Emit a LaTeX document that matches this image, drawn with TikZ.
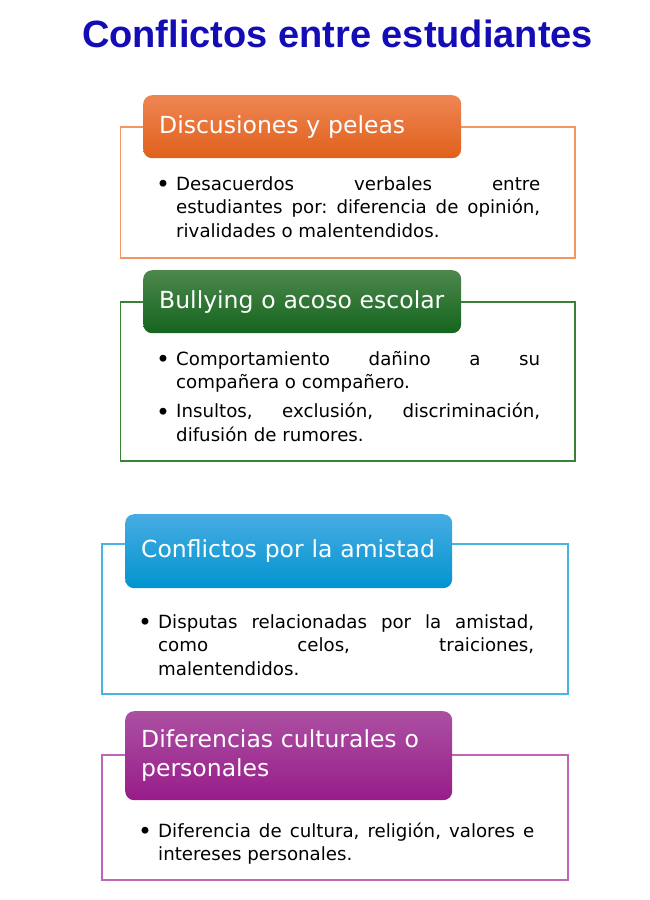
\documentclass[tikz,border=0pt]{standalone}
\usepackage{fontspec}
\setmainfont{DejaVu Sans}
\newfontfamily\titlefont{Liberation Sans}
\frenchspacing
\definecolor{titleblue}{RGB}{20,12,180}
\definecolor{orangetop}{RGB}{238,134,82}
\definecolor{orangebot}{RGB}{224,96,28}
\definecolor{orangeline}{RGB}{244,150,100}
\definecolor{greentop}{RGB}{76,136,76}
\definecolor{greenbot}{RGB}{20,100,30}
\definecolor{greenline}{RGB}{56,130,56}
\definecolor{bluetop}{RGB}{72,172,226}
\definecolor{bluebot}{RGB}{0,148,208}
\definecolor{blueline}{RGB}{72,180,228}
\definecolor{purpletop}{RGB}{172,80,162}
\definecolor{purplebot}{RGB}{152,28,138}
\definecolor{purpleline}{RGB}{192,100,182}
\newcommand\bulitem[1]{\noindent\hangindent=21pt\hangafter=1%
  \makebox[21pt][l]{\hspace{1pt}\raisebox{-2.6pt}{\scalebox{1.3}{\textbullet}}}#1\par}
\newcommand\itemgap{\vspace{5.5pt}}
\begin{document}
\begin{tikzpicture}[x=1pt,y=-1pt,
  hdr/.style={anchor=north west,rounded corners=9pt,top color=#1top,bottom color=#1bot,
    text=white,font=\fontsize{23.5}{29}\selectfont,inner ysep=0pt,align=left},
  bodytxt/.style={anchor=base west,inner sep=0pt,text width=#1,align=justify,
    font=\fontsize{18.2}{23.5}\selectfont},
  boxframe/.style={draw=#1line,line width=1.3pt}]
  \useasboundingbox (0,0) rectangle (650,900);
  \node[font=\titlefont\fontsize{38}{44}\selectfont\bfseries,text=titleblue,anchor=base]
    (title) at (337.5,47) {Conflictos entre estudiantes};

  \draw[boxframe=orange] (120.5,127) rectangle (575,258);
  \node[hdr=orange,inner xsep=16pt,text width=286pt,minimum height=63pt]
    (discusion) at (143,95) {Discusiones y peleas};
  \node[bodytxt=385pt] (discusion-txt) at (155,190)
    {\bulitem{Desacuerdos verbales entre\linebreak estudiantes por: diferencia de opinión,\linebreak rivalidades o malentendidos.}};

  \draw[boxframe=green] (120.5,302) rectangle (575,461);
  \node[hdr=green,inner xsep=16pt,text width=286pt,minimum height=63pt]
    (bullying) at (143,270) {Bullying o acoso escolar};
  \node[bodytxt=385pt] (bullying-txt) at (155,365)
    {\bulitem{Comportamiento dañino a su\linebreak compañera o compañero.}\itemgap
     \bulitem{Insultos, exclusión, discriminación,\linebreak difusión de rumores.}};

  \draw[boxframe=blue] (102,544) rectangle (568,694);
  \node[hdr=blue,inner xsep=16pt,text width=295pt,minimum height=74pt]
    (amistad) at (125,514) {Conflictos por la amistad};
  \node[bodytxt=397pt] (amistad-txt) at (137,628)
    {\bulitem{Disputas relacionadas por la amistad,\linebreak como celos, traiciones,\linebreak malentendidos.}};

  \draw[boxframe=purple] (102,755) rectangle (568,880);
  \node[hdr=purple,inner xsep=16pt,text width=295pt,minimum height=89pt]
    (cultura) at (125,711) {Diferencias culturales o\\personales};
  \node[bodytxt=397pt] (cultura-txt) at (137,837)
    {\bulitem{Diferencia de cultura, religión, valores e\linebreak intereses personales.}};
\end{tikzpicture}
\end{document}
